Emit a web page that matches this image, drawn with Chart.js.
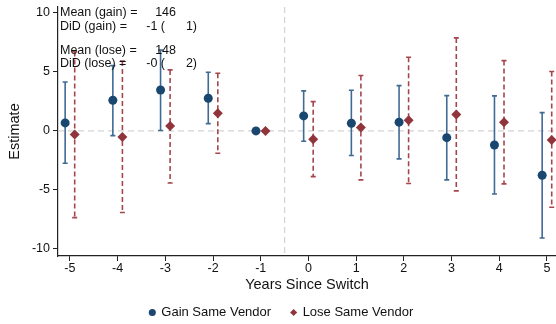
<!DOCTYPE html>
<html>
<head>
<meta charset="utf-8">
<script src="https://cdn.jsdelivr.net/npm/chart.js@4/dist/chart.umd.min.js"></script>
<style>
  html,body{margin:0;padding:0;background:#fff;}
  #wrap{width:556px;height:324px;position:relative;}
</style>
</head>
<body>
<div id="wrap"><canvas id="c" width="556" height="324"></canvas></div>
<script>
// years relative to the switch
const years = [-5,-4,-3,-2,-1,0,1,2,3,4,5];

// gain same vendor: estimate and 95% CI
const gainEst = [0.68, 2.6, 3.47, 2.77, 0, 1.27, 0.65, 0.74, -0.57, -1.19, -3.76];
const gainLo  = [-2.74, -0.4, 0.03, 0.62, null, -0.87, -2.09, -2.37, -4.15, -5.34, -9.07];
const gainHi  = [4.15, 5.53, 6.86, 4.97, null, 3.39, 3.45, 3.84, 2.99, 2.97, 1.55];

// lose same vendor
const loseEst = [-0.31, -0.51, 0.42, 1.5, 0, -0.71, 0.28, 0.9, 1.38, 0.74, -0.76];
const loseLo  = [-7.35, -6.92, -4.41, -1.89, null, -3.87, -4.15, -4.46, -5.08, -4.49, -6.47];
const loseHi  = [6.72, 5.93, 5.17, 4.89, null, 2.48, 4.69, 6.24, 7.88, 5.96, 5.03];

const xTicks = [-5,-4,-3,-2,-1,0,1,2,3,4,5];
const yTicks = [-10,-5,0,5,10];

// text box in the top-left corner: label, number, bracket number
const notes = [
  ['Mean (gain) =', '146', ''],
  ['DiD (gain) =', '-1 (', '1)'],
  null,
  ['Mean (lose) =', '148', ''],
  ['DiD (lose) =', '-0 (', '2)']
];

const NAVY = '#1a476f', NAVY_CI = '#3f6a93', MAROON = '#90353b', MAROON_CI = '#a5464d';
const FONT = '"Liberation Sans", Arial, sans-serif';

const shift = 0.1;
const gainPts = years.map((y,i)=>({x:y-shift, y:gainEst[i]}));
const losePts = years.map((y,i)=>({x:y+shift, y:loseEst[i]}));

const errorBars = {
  id:'errorBars',
  beforeDatasetsDraw(chart){
    const {ctx, scales:{x, y}} = chart;
    const sets = [
      {off:-shift, lo:gainLo, hi:gainHi, color:NAVY_CI, dash:[]},
      {off:shift, lo:loseLo, hi:loseHi, color:MAROON_CI, dash:[5,3]}
    ];
    ctx.save();
    // reference lines
    ctx.strokeStyle = '#d4d4d4';
    ctx.lineWidth = 1.2;
    ctx.setLineDash([6,4]);
    const y0 = y.getPixelForValue(0);
    ctx.beginPath(); ctx.moveTo(chart.chartArea.left, y0); ctx.lineTo(chart.chartArea.right, y0); ctx.stroke();
    const xv = x.getPixelForValue(-0.5);
    ctx.beginPath(); ctx.moveTo(xv, chart.chartArea.top); ctx.lineTo(xv, chart.chartArea.bottom); ctx.stroke();

    sets.forEach(s=>{
      ctx.strokeStyle = s.color;
      ctx.lineWidth = 1.6;
      years.forEach((yr,i)=>{
        if(s.lo[i]==null) return;
        const px = x.getPixelForValue(yr+s.off);
        const pl = y.getPixelForValue(s.lo[i]);
        const ph = y.getPixelForValue(s.hi[i]);
        ctx.setLineDash(s.dash);
        ctx.beginPath(); ctx.moveTo(px, ph); ctx.lineTo(px, pl); ctx.stroke();
        ctx.setLineDash([]);
        ctx.beginPath();
        ctx.moveTo(px-2.5, ph); ctx.lineTo(px+2.5, ph);
        ctx.moveTo(px-2.5, pl); ctx.lineTo(px+2.5, pl);
        ctx.stroke();
      });
    });
    ctx.restore();
  },
  afterDraw(chart){
    const {ctx, chartArea} = chart;
    ctx.save();
    ctx.fillStyle = '#111';
    ctx.font = '12.5px ' + FONT;
    ctx.textBaseline = 'middle';
    let yy = chartArea.top + 6;
    notes.forEach(n=>{
      if(n){
        const x0 = chartArea.left + 2;
        ctx.textAlign = 'left';
        ctx.fillText(n[0], x0, yy);
        ctx.textAlign = 'right';
        ctx.fillText(n[1], x0 + (n[2] ? 105 : 116), yy);
        if(n[2]) ctx.fillText(n[2], x0 + 137, yy);
        yy += 13.5;
      } else {
        yy += 10.5;
      }
    });
    ctx.restore();
  }
};

new Chart(document.getElementById('c'), {
  type:'scatter',
  data:{
    datasets:[
      {label:'Gain Same Vendor', data:gainPts, pointStyle:'circle', pointRadius:4.5,
       backgroundColor:NAVY, borderColor:NAVY, borderWidth:0, clip:false},
      {label:'Lose Same Vendor', data:losePts, pointStyle:'rectRot', pointRadius:5,
       backgroundColor:MAROON, borderColor:MAROON, borderWidth:0, clip:false}
    ]
  },
  options:{
    responsive:false,
    animation:false,
    layout:{autoPadding:false, padding:{top:7, right:0, left:7, bottom:0}},
    plugins:{
      tooltip:{enabled:false},
      legend:{
        position:'bottom',
        maxHeight:38,
        labels:{usePointStyle:true, boxWidth:5, boxHeight:5, padding:20,
                color:'#111', font:{family:FONT, size:13}}
      }
    },
    scales:{
      x:{
        type:'linear', min:-5.25, max:5.19,
        afterBuildTicks(s){ s.ticks = xTicks.map(v=>({value:v})); },
        grid:{drawOnChartArea:false, drawTicks:true, tickLength:5, color:'#222'},
        border:{display:true, color:'#222', width:1.2},
        ticks:{color:'#111', padding:0, font:{family:FONT, size:12.5}},
        title:{display:true, text:'Years Since Switch', color:'#111', padding:{top:0, bottom:-8},
               font:{family:FONT, size:14.5}},
        afterFit(s){ s.height = 30; s.paddingLeft = 0; s.paddingRight = 0; }
      },
      y:{
        min:-10.6, max:10.5,
        afterBuildTicks(s){ s.ticks = yTicks.map(v=>({value:v})); },
        grid:{drawOnChartArea:false, drawTicks:true, tickLength:5, color:'#222'},
        border:{display:true, color:'#222', width:1.2},
        ticks:{color:'#111', padding:3, font:{family:FONT, size:12.5}},
        title:{display:true, text:'Estimate', color:'#111', padding:{top:-1, bottom:0},
               font:{family:FONT, size:14.5}},
        afterFit(s){ s.width = 51; s.paddingTop = 0; s.paddingBottom = 0; }
      }
    }
  },
  plugins:[errorBars]
});
</script>
</body>
</html>
